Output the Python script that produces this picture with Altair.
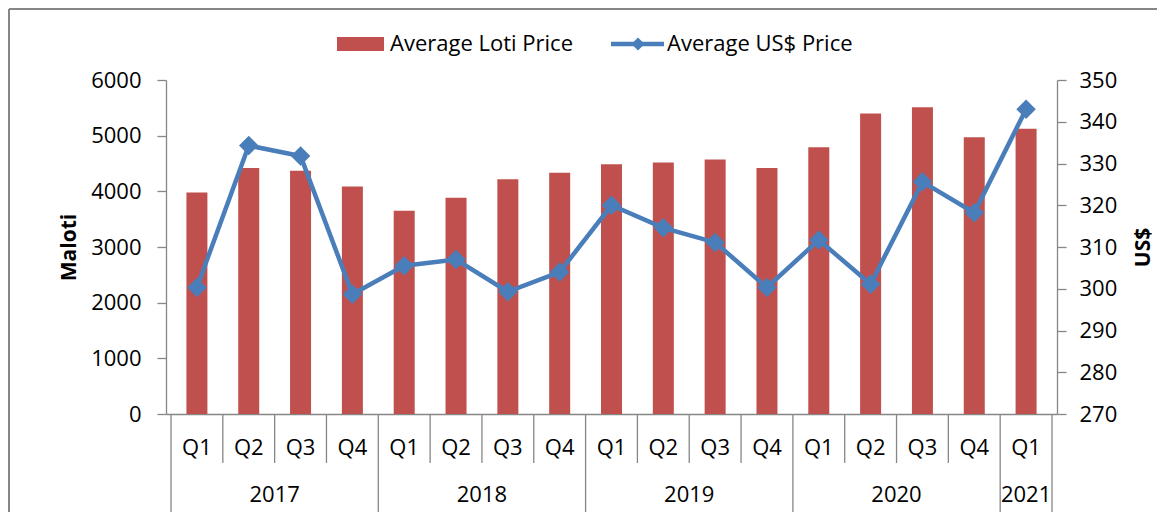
import altair as alt
import pandas as pd

years = ["2017"] * 4 + ["2018"] * 4 + ["2019"] * 4 + ["2020"] * 4 + ["2021"]
quarters = ["Q1", "Q2", "Q3", "Q4"] * 4 + ["Q1"]
loti_price = [3980, 4420, 4370, 4085, 3650, 3885, 4215, 4335, 4485, 4520,
              4570, 4420, 4790, 5400, 5510, 4970, 5125]
usd_price = [300.3, 334.3, 331.8, 298.7, 305.5, 307.0, 299.3, 304.0, 320.0,
             314.6, 311.1, 300.3, 311.7, 301.1, 325.6, 318.2, 343.0]

W, H = 891, 334
FONT = "Open Sans"
FS = 22
GRAY = "#868686"
RED = "#C0504D"
BLUE = "#4A7EBB"

n = len(quarters)
df = pd.DataFrame({"idx": list(range(n)), "year": years, "quarter": quarters,
                   "loti": loti_price, "usd": usd_price})

# separators between categories
bounds = []
for i in range(n + 1):
    b = i - 0.5
    is_year = i == 0 or i == n or years[i] != years[i - 1]
    bounds.append({"b": b, "kind": "year" if is_year else "quarter"})
bdf = pd.DataFrame(bounds)
qsep = bdf[bdf.kind == "quarter"]
ysep = bdf[bdf.kind == "year"]

ydf = df.groupby("year", as_index=False)["idx"].mean()

xscale = alt.Scale(domain=[-0.5, n - 0.5], nice=False, zero=False)
xenc = alt.X("idx:Q", scale=xscale,
             axis=alt.Axis(labels=False, ticks=False, title=None, grid=False,
                           domainColor=GRAY, domainWidth=1.3))

bars = alt.Chart(df).mark_bar(size=21, color=RED).encode(
    x=xenc,
    y=alt.Y("loti:Q", scale=alt.Scale(domain=[0, 6000], nice=False),
            axis=alt.Axis(values=[0, 1000, 2000, 3000, 4000, 5000, 6000],
                          format="d",
                          title="Maloti", titleFontWeight="bold",
                          titleAngle=270, titleX=-97, titleY=H / 2,
                          titleAlign="center", titleBaseline="middle",
                          grid=False, tickSize=9, labelPadding=16,
                          domainColor=GRAY, tickColor=GRAY, domainWidth=1.3,
                          tickWidth=1.3)),
)

usd_y = alt.Y("usd:Q", scale=alt.Scale(domain=[270, 350], nice=False, zero=False),
              axis=alt.Axis(orient="right", values=list(range(270, 351, 10)),
                            format="d",
                            title="US$", titleFontWeight="bold",
                            titleAngle=270, titleX=86, titleY=H / 2,
                            titleAlign="center", titleBaseline="middle",
                            grid=False, tickSize=9, labelPadding=13,
                            domainColor=GRAY, tickColor=GRAY, domainWidth=1.3,
                            tickWidth=1.3))

line = alt.Chart(df).mark_line(color=BLUE, strokeWidth=4.5).encode(x="idx:Q", y=usd_y)
pts = alt.Chart(df).mark_point(shape="diamond", filled=True, size=380,
                               color=BLUE, opacity=1).encode(x="idx:Q", y=usd_y)
usd_layer = alt.layer(line, pts)

qsep_rules = alt.Chart(qsep).mark_rule(color=GRAY, strokeWidth=1.3).encode(
    x=alt.X("b:Q", scale=xscale), y=alt.value(H), y2=alt.value(H + 49))
ysep_rules = alt.Chart(ysep).mark_rule(color=GRAY, strokeWidth=1.3).encode(
    x=alt.X("b:Q", scale=xscale), y=alt.value(H), y2=alt.value(H + 98))

qlabels = alt.Chart(df).mark_text(font=FONT, fontSize=FS, color="black",
                                  baseline="middle").encode(
    x=alt.X("idx:Q", scale=xscale), y=alt.value(H + 34), text="quarter:N")
ylabels = alt.Chart(ydf).mark_text(font=FONT, fontSize=FS, color="black",
                                   baseline="middle").encode(
    x=alt.X("idx:Q", scale=xscale), y=alt.value(H + 81), text="year:N")

# legend
leg_rect = alt.Chart(df.head(1)).mark_rect(color=RED).encode(
    x=alt.value(171), x2=alt.value(218), y=alt.value(-43), y2=alt.value(-29))
leg_t1 = alt.Chart(df.head(1)).mark_text(font=FONT, fontSize=FS, color="black",
                                         align="left", baseline="middle").encode(
    x=alt.value(224), y=alt.value(-36), text=alt.value("Average Loti Price"))
leg_line = alt.Chart(df.head(1)).mark_rule(color=BLUE, strokeWidth=4.5).encode(
    x=alt.value(445), x2=alt.value(498), y=alt.value(-36))
leg_pt = alt.Chart(df.head(1)).mark_point(shape="diamond", filled=True, size=170,
                                          color=BLUE, opacity=1).encode(
    x=alt.value(472), y=alt.value(-36))
leg_t2 = alt.Chart(df.head(1)).mark_text(font=FONT, fontSize=FS, color="black",
                                         align="left", baseline="middle").encode(
    x=alt.value(501), y=alt.value(-36), text=alt.value("Average US$ Price"))

# outer border
border_top = alt.Chart(df.head(1)).mark_rule(color=GRAY, strokeWidth=2).encode(
    x=alt.value(-157), x2=alt.value(1000), y=alt.value(-71))
border_left = alt.Chart(df.head(1)).mark_rule(color=GRAY, strokeWidth=2).encode(
    x=alt.value(-157), y=alt.value(-71), y2=alt.value(H + 100))

chart = alt.layer(
    bars, usd_layer, qsep_rules, ysep_rules, qlabels, ylabels,
    leg_rect, leg_t1, leg_line, leg_pt, leg_t2, border_top, border_left
).resolve_scale(y="independent").properties(
    width=W, height=H,
    autosize=alt.AutoSizeParams(type="none"),
    padding={"left": 158, "top": 72, "right": 100, "bottom": 98},
).configure_view(stroke=None).configure_axis(
    labelFont=FONT, labelFontSize=FS, labelColor="black",
    titleFont=FONT, titleFontSize=21, titleColor="black",
)

chart.save("out.html", embed_options={"renderer": "svg", "actions": False})
